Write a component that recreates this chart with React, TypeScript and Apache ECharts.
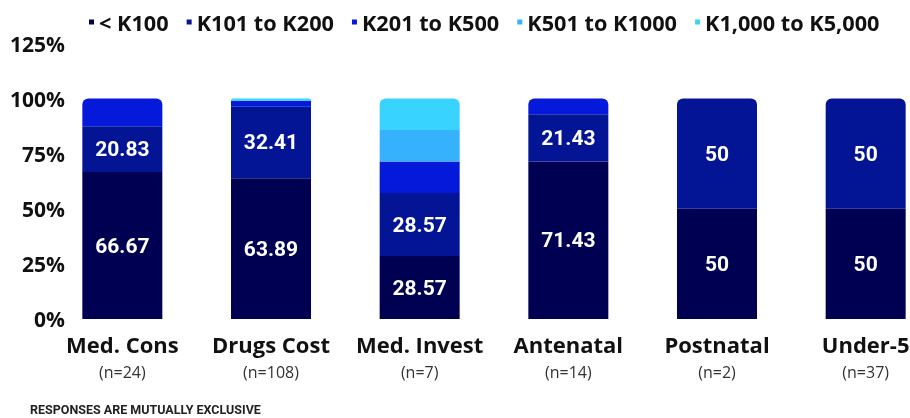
import React, { useEffect, useRef } from "react";
import * as echarts from "echarts";

const categories = ["Med. Cons", "Drugs Cost", "Med. Invest", "Antenatal", "Postnatal", "Under-5"];
const sampleSizes = [24, 108, 7, 14, 2, 37];
const seriesNames = ["< K100", "K101 to K200", "K201 to K500", "K501 to K1000", "K1,000 to K5,000"];
const lt100 = [66.67, 63.89, 28.57, 71.43, 50, 50];
const k101to200 = [20.83, 32.41, 28.57, 21.43, 50, 50];
const k201to500 = [12.5, 2.78, 14.29, 7.14, 0, 0];
const k501to1000 = [0, 0, 14.29, 0, 0, 0];
const k1000to5000 = [0, 0.93, 14.29, 0, 0, 0];
const yTicks = [0, 25, 50, 75, 100, 125];

const colors = ["#000052", "#031494", "#0519db", "#36b2fc", "#38d4ff"];
const narrow = "Roboto, sans-serif";

export default function App() {
  const ref = useRef<HTMLDivElement>(null);
  useEffect(() => {
    if (!ref.current) return;
    const chart = echarts.init(ref.current, null, { renderer: "svg" });
    const all = [lt100, k101to200, k201to500, k501to1000, k1000to5000];
    const topIndex = categories.map((_, c) => {
      let t = 0;
      all.forEach((arr, s) => { if (arr[c] > 0) t = s; });
      return t;
    });
    const series = all.map((arr, s) => ({
      name: seriesNames[s],
      type: "bar",
      stack: "total",
      barWidth: 80,
      itemStyle: { color: colors[s] },
      label: {
        show: true,
        position: "inside",
        color: "#ffffff",
        fontFamily: narrow,
        fontWeight: "bold",
        fontSize: 21,
        formatter: (p: any) => (p.value >= 20 ? String(p.value) : ""),
      },
      data: arr.map((v, c) => ({
        value: v,
        itemStyle: { borderRadius: topIndex[c] === s ? [6, 6, 0, 0] : 0 },
      })),
    }));
    chart.setOption({
      animation: false,
      legend: {
        top: 6,
        left: 84,
        icon: "rect",
        itemWidth: 5,
        itemHeight: 5,
        itemGap: 18,
        data: seriesNames,
        textStyle: { fontFamily: "'Open Sans', sans-serif", fontWeight: "bold", fontSize: 21.7, color: "#111" },
      },
      grid: { left: 48, top: 43.5, right: 0, bottom: 99, containLabel: false },
      xAxis: {
        type: "category",
        data: categories.map((c, i) => `{a|${c}}\n{b|(n=${sampleSizes[i]})}`),
        axisLine: { show: false },
        axisTick: { show: false },
        axisLabel: {
          margin: 11,
          interval: 0,
          rich: {
            a: { fontFamily: "'Open Sans', sans-serif", fontWeight: "bold", fontSize: 22, color: "#111", lineHeight: 28 },
            b: { fontFamily: "'Open Sans', sans-serif", fontSize: 16, color: "#333", lineHeight: 28 },
          },
        },
      },
      yAxis: {
        type: "value",
        min: yTicks[0],
        max: yTicks[yTicks.length - 1],
        interval: 25,
        offset: -25,
        splitLine: { show: false },
        axisLine: { show: false },
        axisTick: { show: false },
        axisLabel: {
          margin: 8,
          formatter: "{value}%",
          fontFamily: "'Open Sans', sans-serif",
          fontWeight: "bold",
          fontSize: 21,
          color: "#111",
        },
      },
      graphic: [
        {
          type: "text",
          left: 30,
          top: 403,
          style: {
            text: "RESPONSES ARE MUTUALLY EXCLUSIVE",
            fontFamily: narrow,
            fontWeight: "bold",
            fontSize: 12.5,
            fill: "#222",
          },
        },
      ],
      series,
    });
    return () => chart.dispose();
  }, []);
  return (
    <div style={{ position: "fixed", left: 0, top: 0, width: 910, height: 418, overflow: "hidden" }}>
      <div ref={ref} style={{ width: 940, height: 418 }} />
    </div>
  );
}
